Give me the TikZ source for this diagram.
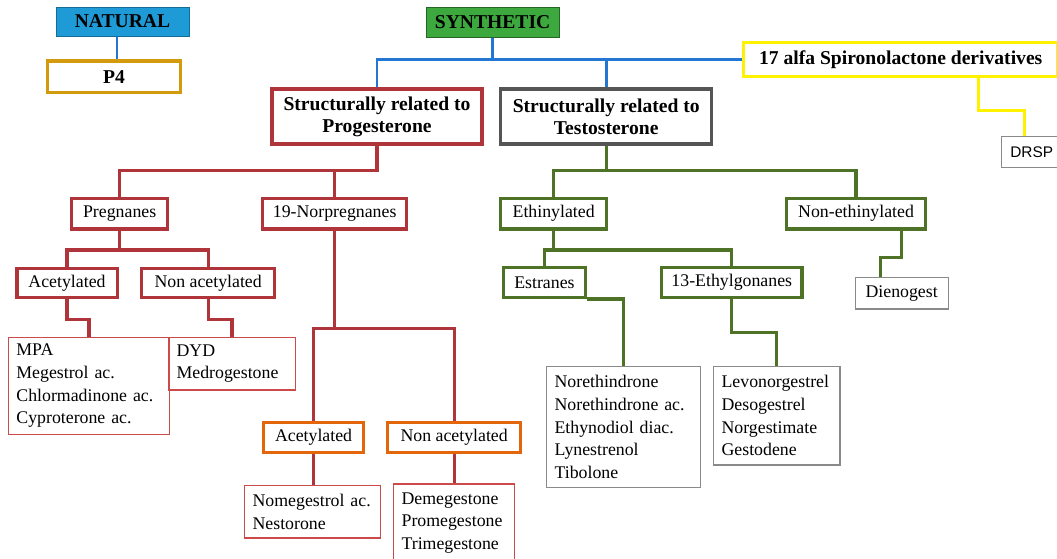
\documentclass[tikz,border=0pt]{standalone}
\usepackage{fontspec}
\setmainfont{Liberation Serif}
\newfontfamily\drspfont{Liberation Sans}
\hyphenpenalty=10000
\definecolor{natblue}{HTML}{1E9AD6}
\definecolor{synthgreen}{HTML}{3DA83D}
\definecolor{lineblue}{HTML}{2377D2}
\definecolor{pgold}{HTML}{D49A0E}
\definecolor{progred}{HTML}{B0353A}
\definecolor{listred}{HTML}{CC4A4A}
\definecolor{testgray}{HTML}{555555}
\definecolor{testgreen}{HTML}{4E7326}
\definecolor{orangeacet}{HTML}{E3660B}
\definecolor{spiroyel}{HTML}{FFF200}
\definecolor{listgray}{HTML}{8A8A8A}
\tikzset{
	bigtext/.style={font=\bfseries\fontsize{19.6}{22}\selectfont},
	smalltext/.style={font=\fontsize{17.8}{22.7}\selectfont},
	boxbase/.style={draw, anchor=north west, inner sep=0pt, align=center},
	topbox/.style={boxbase, bigtext, line width=0.8pt},
	headbox/.style={boxbase, bigtext, line width=3.4pt},
	classbox/.style={boxbase, smalltext, line width=3.3pt},
	listbox/.style={boxbase, smalltext, line width=1.2pt, align=left, inner xsep=8pt},
	blueline/.style={draw=lineblue, line width=2.8pt},
	redline/.style={draw=progred, line width=3.2pt},
	greenline/.style={draw=testgreen, line width=3.2pt},
	yellowline/.style={draw=spiroyel, line width=3pt}
}

\begin{document}
\begin{tikzpicture}[x=1pt, y=-1pt]
	%%%%% START %%%%%
	\useasboundingbox (0,0) rectangle (1057,558);
	
	\node[topbox, draw=natblue!70!black, fill=natblue, minimum width=132.8, minimum height=29] (natural) at (55.7,6.7) {NATURAL};
	\node[headbox, draw=pgold, minimum width=133.4, minimum height=31.7] (p4) at (45.6,59.3) {P4};
	\draw[blueline] ([xshift=-5.5]natural.south) -- ([xshift=-5.5]natural.south |- p4.north);
	
	\node[topbox, draw=synthgreen!60!black, fill=synthgreen, minimum width=133, minimum height=29.4] (synthetic) at (425.7,7.3) {SYNTHETIC};
	\node[headbox, draw=progred, line width=4pt, minimum width=210, minimum height=54.4] (progest) at (270,87.3) {Structurally related to\\Progesterone};
	\node[headbox, draw=testgray, minimum width=211, minimum height=55] (testost) at (499,87.3) {Structurally related to\\Testosterone};
	\node[headbox, draw=spiroyel, minimum width=314, minimum height=34.3] (spiro) at (742,40.7) {17 alfa Spironolactone derivatives};
	\node[boxbase, draw=listgray, line width=1.2pt, font=\drspfont\fontsize{15.4}{18}\selectfont, inner xsep=9pt, minimum height=31] (drsp) at (1000.7,136) {DRSP};
	
	\draw[blueline] (synthetic.south) -- (synthetic.south |- spiro.west);
	\draw[blueline] (progest.north) |- (spiro.west);
	\draw[blueline] (testost.north) -- (testost.north |- spiro.west);
	\draw[yellowline] ([xshift=77.4]spiro.south) -- ++(0,31.7) -| ([xshift=-7.5]drsp.north);
	
	% progesterone side
	\node[classbox, draw=progred, minimum width=96, minimum height=30.6] (pregn) at (70,196.7) {Pregnanes};
	\node[classbox, draw=progred, minimum width=144, minimum height=30.6] (norpreg) at (261,196.7) {19-Norpregnanes};
	\draw[redline] (progest.south) -- ++(0,25) -| (pregn.north);
	\draw[redline] (progest.south) -- ++(0,25) -| (norpreg.north);
	
	\node[classbox, draw=progred, minimum width=100.3, minimum height=29] (acet1) at (15.2,266.7) {Acetylated};
	\node[classbox, draw=progred, minimum width=133, minimum height=29] (nonacet1) at (140,266.7) {Non acetylated};
	\draw[redline] (pregn.south) -- ++(0,19.4) -| (acet1.north);
	\draw[redline] (pregn.south) -- ++(0,19.4) -| (nonacet1.north);
	
	\node[listbox, draw=listred, text width=145.2, minimum height=97.3] (mpalist) at (7.8,336.7) {MPA\\Megestrol ac.\\Chlormadinone ac.\\Cyproterone ac.};
	\node[listbox, draw=listred, text width=110.6, minimum height=52.6] (dydlist) at (168,336.7) {DYD\\Medrogestone};
	\draw[redline] (acet1.south) -- ++(0,20.3) -| (mpalist.north);
	\draw[redline] (nonacet1.south) -- ++(0,20.3) -| (dydlist.north);
	
	\node[classbox, draw=orangeacet, minimum width=100.2, minimum height=30] (acet2) at (261.8,420.7) {Acetylated};
	\node[classbox, draw=orangeacet, minimum width=133, minimum height=30] (nonacet2) at (386,420.7) {Non acetylated};
	\draw[redline] (norpreg.south) -- ++(0,97.7) -| (acet2.north);
	\draw[redline] (norpreg.south) -- ++(0,97.7) -| (nonacet2.north);
	
	\node[listbox, draw=listred, text width=120, minimum height=52.3] (nomlist) at (244,485) {Nomegestrol~ac.\\Nestorone};
	\node[listbox, draw=listred, text width=105, minimum height=78] (demlist) at (393,483.3) {Demegestone\\Promegestone\\Trimegestone};
	\draw[redline] (acet2.south) -- (acet2.south |- nomlist.north);
	\draw[redline] (nonacet2.south) -- (nonacet2.south |- demlist.north);
	
	% testosterone side
	\node[classbox, draw=testgreen, minimum width=106, minimum height=30.6] (ethin) at (499,196.7) {Ethinylated};
	\node[classbox, draw=testgreen, minimum width=139.2, minimum height=30.6] (nonethin) at (784.8,196.7) {Non-ethinylated};
	\draw[greenline] (testost.south) -- ++(0,24.4) -| (ethin.north);
	\draw[greenline] (testost.south) -- ++(0,24.4) -| (nonethin.north);
	
	\node[classbox, draw=testgreen, minimum width=82.4, minimum height=29.7] (estranes) at (501.6,266) {Estranes};
	\node[classbox, draw=testgreen, minimum width=140.3, minimum height=29.7] (ethylgon) at (660,266) {13-Ethylgonanes};
	\draw[greenline] (ethin.south) -- ++(0,19.4) -| (estranes.north);
	\draw[greenline] (ethin.south) -- ++(0,19.4) -| (ethylgon.north);
	
	\node[listbox, draw=listgray, text width=137.8, minimum height=120.7] (norlist) at (546,366) {Norethindrone\\Norethindrone~ac.\\Ethynodiol~diac.\\Lynestrenol\\Tibolone};
	\node[listbox, draw=listgray, text width=110.4, minimum height=98.3] (levolist) at (713,366) {Levonorgestrel\\Desogestrel\\Norgestimate\\Gestodene};
	\node[classbox, draw=listgray, line width=1.2pt, minimum width=92.9, minimum height=31.6] (dieno) at (854.6,276.7) {Dienogest};
	\draw[greenline] (estranes.south east) -| (norlist.north);
	\draw[greenline] (ethylgon.south) -- ++(0,33.6) -| (levolist.north);
	\draw[greenline] ([xshift=45.4]nonethin.south) -- ++(0,26.7) -| ([xshift=-21.5]dieno.north);
	
	%%%%% END %%%%%
\end{tikzpicture}
\end{document}
